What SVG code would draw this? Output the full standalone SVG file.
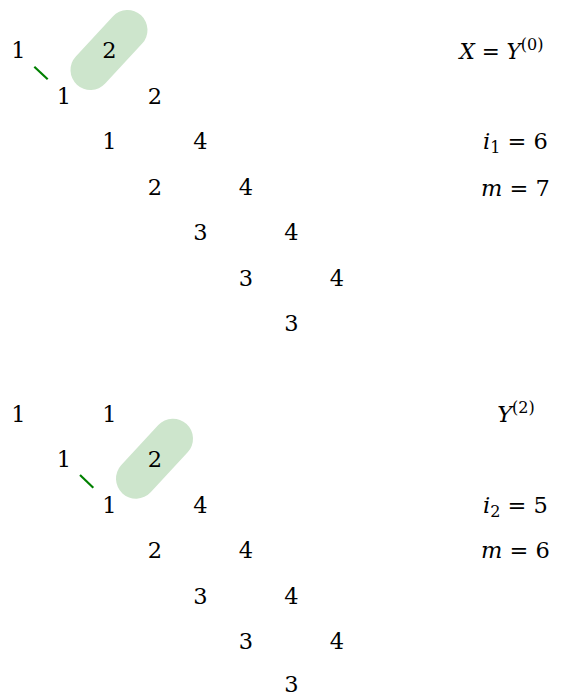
<svg xmlns="http://www.w3.org/2000/svg" width="575" height="696" viewBox="0 0 575 696">
<style>
text{font-family:"DejaVu Serif",serif;font-size:22.5px;fill:#000;text-anchor:middle}
.it{font-style:italic}
.sup{font-size:16px}
.lab1{font-size:21.5px}
.pill{stroke:#cde5cc;stroke-width:40;stroke-linecap:round;fill:none}
.mark{stroke:#008000;stroke-width:2.2;fill:none}
</style>
<rect width="575" height="696" fill="#fff"/>
<g id="highlights">
<line class="pill" x1="90.5" y1="70" x2="127.5" y2="30"/>
<line class="pill" x1="136" y1="478.7" x2="173" y2="438.7"/>
</g>
<g id="connectors">
<line class="mark" x1="34.3" y1="66.7" x2="47.7" y2="79.3"/>
<line class="mark" x1="80" y1="475" x2="93.3" y2="487.7"/>
</g>
<g id="top-array">
<g id="t00"><text x="18.3" y="58.3">1</text></g>
<g id="t01"><text x="109.3" y="58.3">2</text></g>
<g id="t10"><text x="63.8" y="103.8">1</text></g>
<g id="t11"><text x="154.8" y="103.8">2</text></g>
<g id="t20"><text x="109.3" y="149.3">1</text></g>
<g id="t21"><text x="200.3" y="149.3">4</text></g>
<g id="t30"><text x="154.8" y="194.8">2</text></g>
<g id="t31"><text x="245.8" y="194.8">4</text></g>
<g id="t40"><text x="200.3" y="240.3">3</text></g>
<g id="t41"><text x="291.3" y="240.3">4</text></g>
<g id="t50"><text x="245.8" y="285.8">3</text></g>
<g id="t51"><text x="336.8" y="285.8">4</text></g>
<g id="t60"><text x="291.3" y="331.3">3</text></g>
</g>
<g id="bottom-array">
<g id="b00"><text x="18.3" y="421.5">1</text></g>
<g id="b01"><text x="109.3" y="421.5">1</text></g>
<g id="b10"><text x="63.8" y="467">1</text></g>
<g id="b11"><text x="154.8" y="467">2</text></g>
<g id="b20"><text x="109.3" y="512.5">1</text></g>
<g id="b21"><text x="200.3" y="512.5">4</text></g>
<g id="b30"><text x="154.8" y="558">2</text></g>
<g id="b31"><text x="245.8" y="558">4</text></g>
<g id="b40"><text x="200.3" y="603.5">3</text></g>
<g id="b41"><text x="291.3" y="603.5">4</text></g>
<g id="b50"><text x="245.8" y="649">3</text></g>
<g id="b51"><text x="336.8" y="649">4</text></g>
<g id="b60"><text x="291.3" y="692">3</text></g>
</g>
<g id="labels">
<g id="lab-X"><text class="lab1" x="501.5" y="58.8"><tspan class="it">X</tspan> = <tspan class="it">Y</tspan><tspan class="sup" dy="-9">(0)</tspan></text></g>
<g id="lab-i1"><text x="515.5" y="149"><tspan class="it">i</tspan><tspan class="sup" dy="4">1</tspan><tspan dy="-4"> = 6</tspan></text></g>
<g id="lab-m1"><text x="515.5" y="195.5"><tspan class="it">m</tspan> = 7</text></g>
<g id="lab-Y2"><text x="516" y="421.5"><tspan class="it">Y</tspan><tspan class="sup" dy="-9">(2)</tspan></text></g>
<g id="lab-i2"><text x="515.5" y="512.5"><tspan class="it">i</tspan><tspan class="sup" dy="4">2</tspan><tspan dy="-4"> = 5</tspan></text></g>
<g id="lab-m2"><text x="515.5" y="558"><tspan class="it">m</tspan> = 6</text></g>
</g>
</svg>
